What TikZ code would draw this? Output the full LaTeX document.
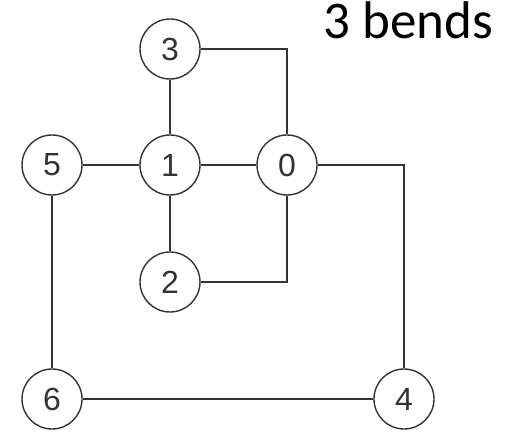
\documentclass[tikz,border=0pt]{standalone}
\usepackage{fontspec}
\usetikzlibrary{positioning}
\newfontfamily\titlefont{Carlito}
\newfontfamily\digitfont{Liberation Sans}
\tikzset{
  % graph vertex
  vnode/.style={circle, draw=black!80, line width=0.7pt, fill=white, minimum size=30pt,
                inner sep=0pt, font=\digitfont\fontsize{16}{16}\selectfont, text=black!80},
  % orthogonal edge
  oedge/.style={draw=black!80, line width=1pt},
  % heading text
  headlabel/.style={font=\titlefont\fontsize{26.5}{30}\selectfont, inner sep=0pt, anchor=base west},
}

\begin{document}
\begin{tikzpicture}[x=0.5pt, y=-0.5pt]
  \useasboundingbox (0,0) rectangle (523,432);

  % ── vertices ──
  \node[vnode] (v3) at (170,49)  {3};
  \node[vnode] (v1) at (170,165) {1};
  \node[vnode] (v0) at (287,165) {0};
  \node[vnode] (v5) at (52,165)  {5};
  \node[vnode] (v2) at (170,282) {2};
  \node[vnode] (v6) at (52,399)  {6};
  \node[vnode] (v4) at (404,399) {4};

  \node[headlabel] (title) at (323,39) {3 bends};

  % ── straight edges ──
  \draw[oedge] (v3) -- (v1);
  \draw[oedge] (v1) -- (v2);
  \draw[oedge] (v5) -- (v1);
  \draw[oedge] (v1) -- (v0);
  \draw[oedge] (v5) -- (v6);
  \draw[oedge] (v6) -- (v4);

  % ── bent edges ──
  \draw[oedge] (v3) -| (v0);
  \draw[oedge] (v2) -| (v0);
  \draw[oedge] (v0) -| (v4);

\end{tikzpicture}
\end{document}
